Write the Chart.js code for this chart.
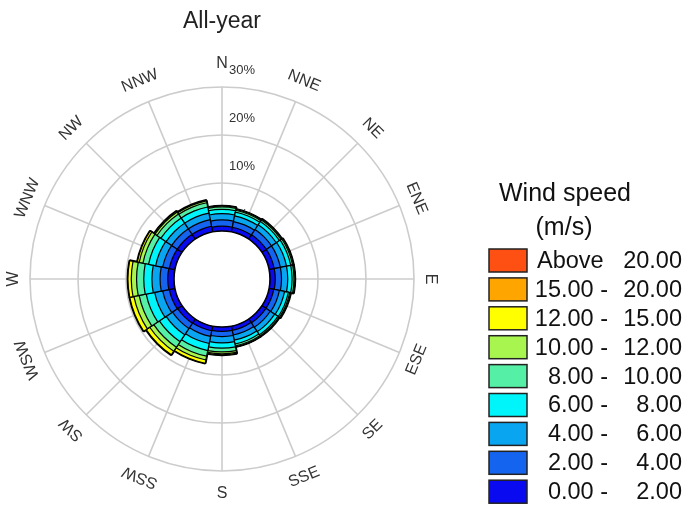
<!DOCTYPE html>
<html>
<head>
<meta charset="utf-8">
<script src="https://cdn.jsdelivr.net/npm/chart.js@4"></script>
<style>
  html, body { margin: 0; padding: 0; background: #fff; }
  #wrap { width: 683px; height: 513px; position: relative; }
</style>
</head>
<body>
<div id="wrap"><canvas id="windRose"></canvas></div>
<script>
const directions = ['N', 'NNE', 'NE', 'ENE', 'E', 'ESE', 'SE', 'SSE', 'S', 'SSW', 'SW', 'WSW', 'W', 'WNW', 'NW', 'NNW'];

// frequency (%) per direction, one array per speed class
const speed0to2   = [1.0, 1.0, 1.1, 1.1, 1.1, 1.0, 1.0, 0.9, 0.9, 1.0, 1.1, 1.2, 1.3, 1.2, 1.2, 1.2];
const speed2to4   = [1.3, 1.2, 1.3, 1.3, 1.3, 1.2, 1.1, 1.0, 1.1, 1.2, 1.3, 1.4, 1.6, 1.4, 1.4, 1.4];
const speed4to6   = [1.3, 1.2, 1.2, 1.3, 1.3, 1.1, 1.1, 1.1, 1.3, 1.5, 1.6, 1.7, 1.7, 1.5, 1.4, 1.4];
const speed6to8   = [0.9, 0.8, 0.8, 0.9, 0.9, 0.8, 0.8, 0.8, 1.1, 1.5, 1.7, 1.8, 1.7, 1.5, 1.3, 1.3];
const speed8to10  = [0.5, 0.4, 0.4, 0.4, 0.4, 0.3, 0.3, 0.4, 0.8, 1.2, 1.4, 1.5, 1.5, 1.2, 1.0, 0.9];
const speed10to12 = [0.2, 0.2, 0.2, 0.2, 0.2, 0.2, 0.1, 0.2, 0.4, 0.8, 1.0, 1.1, 1.1, 0.8, 0.5, 0.4];
const speed12to15 = [0, 0, 0, 0, 0, 0, 0, 0, 0.2, 0.7, 0.9, 0.9, 0.7, 0.4, 0.2, 0.1];
const speed15to20 = [0, 0, 0, 0, 0, 0, 0, 0, 0, 0, 0, 0, 0, 0, 0, 0];
const speedAbove20 = [0, 0, 0, 0, 0, 0, 0, 0, 0, 0, 0, 0, 0, 0, 0, 0];

const speedClasses = [speed0to2, speed2to4, speed4to6, speed6to8, speed8to10, speed10to12, speed12to15, speed15to20, speedAbove20];
const classFrom = ['0.00 -', '2.00 -', '4.00 -', '6.00 -', '8.00 -', '10.00 -', '12.00 -', '15.00 -', 'Above'];
const classTo   = ['2.00', '4.00', '6.00', '8.00', '10.00', '12.00', '15.00', '20.00', '20.00'];
const classColors = ['#0a0af0', '#1464f0', '#0aa5f0', '#00f5fa', '#55f0a5', '#a8f550', '#ffff00', '#ffa500', '#ff5014'];

const tickValues = [0, 10, 20, 30];

// stacked rose: each dataset holds the running total, inner classes drawn on top
const running = directions.map(() => 0);
const datasets = speedClasses.map((vals, k) => {
  vals.forEach((v, i) => { running[i] += v; });
  return {
    label: classFrom[k] + ' ' + classTo[k],
    data: running.slice(),
    backgroundColor: classColors[k],
    borderColor: '#000',
    borderWidth: k === speedClasses.length - 1 ? 2.6 : 1.2
  };
});

const FONT = '"Liberation Sans", Arial, sans-serif';

const roseDecor = {
  id: 'roseDecor',
  beforeDatasetsDraw(chart) {
    const r = chart.scales.r;
    const ctx = chart.ctx;
    const cx = r.xCenter, cy = r.yCenter, R = r.drawingArea;
    ctx.save();
    ctx.strokeStyle = '#cccccc';
    ctx.lineWidth = 1.6;
    directions.forEach((d, i) => {
      const a = i * 2 * Math.PI / directions.length;
      ctx.beginPath();
      ctx.moveTo(cx, cy);
      ctx.lineTo(cx + R * Math.sin(a), cy - R * Math.cos(a));
      ctx.stroke();
    });
    ctx.fillStyle = '#333';
    ctx.font = '13px ' + FONT;
    ctx.textAlign = 'left';
    ctx.textBaseline = 'middle';
    tickValues.forEach(v => {
      const d = r.getDistanceFromCenterForValue(v);
      ctx.fillText(v + '%', cx + 7, cy - d - 17);
    });
    ctx.restore();
  },
  afterDatasetsDraw(chart) {
    const r = chart.scales.r;
    const ctx = chart.ctx;
    const cx = r.xCenter, cy = r.yCenter, R = r.drawingArea;
    ctx.save();
    // calm centre
    const r0 = r.getDistanceFromCenterForValue(0);
    ctx.beginPath();
    ctx.arc(cx, cy, r0, 0, 2 * Math.PI);
    ctx.fillStyle = '#fff';
    ctx.fill();
    ctx.strokeStyle = '#000';
    ctx.lineWidth = 1.6;
    ctx.stroke();

    // direction labels
    ctx.fillStyle = '#333';
    ctx.font = '16px ' + FONT;
    ctx.textAlign = 'center';
    ctx.textBaseline = 'middle';
    directions.forEach((d, i) => {
      const deg = i * 360 / directions.length;
      const a = deg * Math.PI / 180;
      const lr = R + 16 + 7 * Math.abs(Math.cos(a));
      const rot = (deg > 90 && deg <= 180) ? deg - 180 : deg;
      ctx.save();
      ctx.translate(cx + lr * Math.sin(a), cy - lr * Math.cos(a));
      ctx.rotate(rot * Math.PI / 180);
      ctx.fillText(d, 0, 0);
      ctx.restore();
    });

    // title
    ctx.fillStyle = '#222';
    ctx.font = '23px ' + FONT;
    ctx.fillText('All-year', 222, 22);

    // legend
    ctx.fillStyle = '#111';
    ctx.font = '25px ' + FONT;
    ctx.fillText('Wind speed', 565, 194);
    ctx.fillText('(m/s)', 564, 228);
    ctx.font = '23.5px ' + FONT;
    for (let k = speedClasses.length - 1, row = 0; k >= 0; k--, row++) {
      const top = 249 + row * 28.9;
      ctx.fillStyle = classColors[k];
      ctx.fillRect(489, top, 38, 23);
      ctx.strokeStyle = '#222';
      ctx.lineWidth = 1.5;
      ctx.strokeRect(489, top, 38, 23);
      ctx.fillStyle = '#111';
      ctx.textAlign = k === speedClasses.length - 1 ? 'left' : 'right';
      ctx.fillText(classFrom[k], k === speedClasses.length - 1 ? 537 : 608, top + 12.5);
      ctx.textAlign = 'right';
      ctx.fillText(classTo[k], 682, top + 12.5);
    }
    ctx.restore();
  }
};

new Chart(document.getElementById('windRose'), {
  type: 'polarArea',
  data: { labels: directions, datasets: datasets },
  options: {
    responsive: true,
    maintainAspectRatio: false,
    animation: false,
    layout: { padding: { left: 30, right: 269, top: 87, bottom: 42 } },
    plugins: {
      legend: { display: false },
      title: { display: false },
      tooltip: { enabled: false }
    },
    scales: {
      r: {
        min: -10,
        max: 30,
        startAngle: -11.25,
        ticks: { display: false, stepSize: 10 },
        grid: { color: '#cccccc', lineWidth: 1.6, circular: true },
        angleLines: { display: false },
        pointLabels: { display: false }
      }
    }
  },
  plugins: [roseDecor]
});
</script>
</body>
</html>
